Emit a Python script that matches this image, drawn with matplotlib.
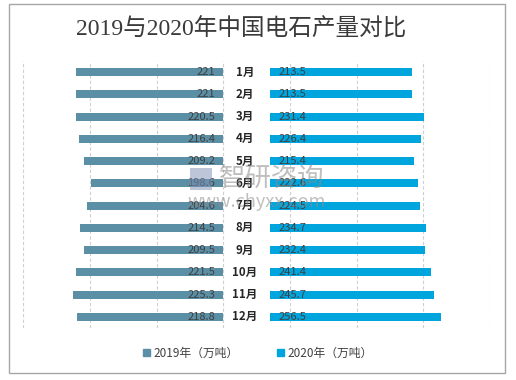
import matplotlib
matplotlib.use("Agg")
import matplotlib.pyplot as plt
from matplotlib.patches import Rectangle, Patch

plt.rcParams['font.family'] = ['Noto Sans CJK SC', 'DejaVu Sans']

months = ['1月', '2月', '3月', '4月', '5月', '6月', '7月', '8月', '9月', '10月', '11月', '12月']
y2019 = [221, 221, 220.5, 216.4, 209.2, 198.6, 204.6, 214.5, 209.5, 221.5, 225.3, 218.8]
y2020 = [213.5, 213.5, 231.4, 226.4, 215.4, 222.6, 224.5, 234.7, 232.4, 241.4, 245.7, 256.5]
series_names = ['2019年（万吨）', '2020年（万吨）']

c2019 = '#5B8FA6'
c2020 = '#00A5DD'
txt = '#404040'
offset = 70

W, H = 516, 380
fig = plt.figure(figsize=(W / 100, H / 100), dpi=100)
ax = fig.add_axes([23.3 / W, 1 - 328 / H, (490 - 23.3) / W, (328 - 61) / H])

ypos = list(range(len(months)))
ax.barh(ypos, [-v for v in y2019], left=0, height=0.37, color=c2019, zorder=2)
ax.barh(ypos, y2020, left=offset, height=0.37, color=c2020, zorder=2)

for i, (a, b, m) in enumerate(zip(y2019, y2020, months)):
    ax.text(-12, i, f'{a:g}', ha='right', va='center', fontsize=8, color=txt, zorder=3)
    ax.text(offset + 13, i, f'{b:g}', ha='left', va='center', fontsize=8, color=txt, zorder=3)
    ax.text(32.5, i, m, ha='center', va='center', fontsize=8.3, color='#262626',
            fontweight='bold', zorder=3)

ax.set_xlim(-300, 400)
ax.set_ylim(len(months) - 0.5, -0.5)
ax.set_xticks(range(-300, 401, 100))
ax.set_yticks([])
ax.tick_params(axis='x', length=0, labelbottom=False)
ax.grid(axis='x', color='#CFCFCF', linestyle=(0, (3, 2)), linewidth=0.8, zorder=0)
for s in ax.spines.values():
    s.set_visible(False)

fig.text(241 / W, 1 - 30 / H, '2019与2020年中国电石产量对比', ha='center', va='center',
         fontsize=17, color='#3A3A3A', family=['Liberation Serif', 'Noto Sans CJK SC'])

handles = [Patch(color=c2019), Patch(color=c2020)]
fig.legend(handles, series_names, loc='center', bbox_to_anchor=(0.5, 1 - 353 / H), ncol=2,
           frameon=False, fontsize=8.5, handlelength=0.6, handleheight=0.6,
           handletextpad=0.3, columnspacing=3.2, labelcolor=txt)

# watermark
fig.text(272 / W, 1 - 178 / H, '智研咨询', ha='center', va='center', fontsize=19,
         color='#8A8A8A', alpha=0.55, zorder=10)
fig.text(257 / W, 1 - 202 / H, 'www.chyxx.com', ha='center', va='center', fontsize=13,
         color='#8A8A8A', alpha=0.55, zorder=10)
fig.patches.append(Rectangle((190 / W, 1 - 190 / H), 22 / W, 22 / H, transform=fig.transFigure,
                             facecolor='#7C8FB5', alpha=0.5, edgecolor='none', zorder=10))

fig.patches.append(Rectangle((9.3 / W, 1 - 372.7 / H), (504.7 - 9.3) / W, (372.7 - 4) / H,
                             transform=fig.transFigure, fill=False, edgecolor='#A6A6A6',
                             linewidth=1.0))

fig.savefig('out.png', dpi=100)
